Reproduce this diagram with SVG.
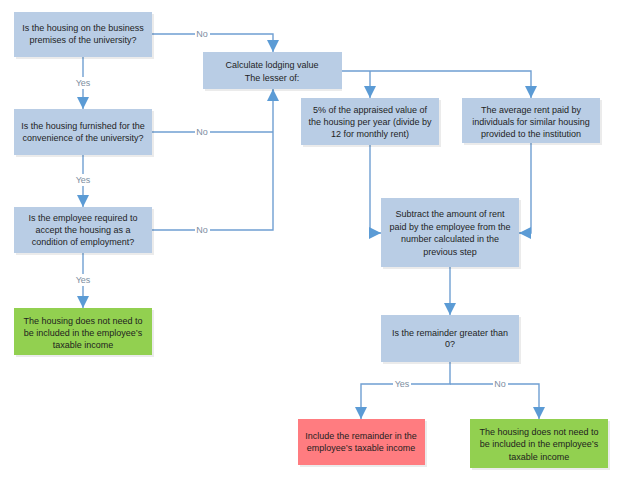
<svg xmlns="http://www.w3.org/2000/svg" width="620" height="482" viewBox="0 0 620 482">
<defs>
<style>
.box{fill:#b9cde5;}
.green{fill:#92d050;}
.red{fill:#ff7c80;}
.sh{fill:#000;opacity:0.08;}
.t{font-family:"Liberation Sans","Open Sans",sans-serif;font-size:9px;fill:#1e1e1e;text-anchor:middle;}
.c{fill:none;stroke:#6f9fd2;stroke-width:1.4;}
.lb{font-family:"Liberation Sans","Open Sans",sans-serif;font-size:9px;fill:#7d8ea1;text-anchor:middle;}
.lbg{fill:#fff;}
</style>
<marker id="ah" markerUnits="userSpaceOnUse" markerWidth="12" markerHeight="12" viewBox="0 0 12 12" refX="12" refY="6" orient="auto">
<path d="M0,0 L12,6 L0,12 Z" fill="#5b9bd5"/>
</marker>
</defs>
<rect width="620" height="482" fill="#fff"/>

<g id="connectors">
<path class="c" d="M83,57 V109" marker-end="url(#ah)"/>
<path class="c" d="M83,155 V207" marker-end="url(#ah)"/>
<path class="c" d="M83,253 V308" marker-end="url(#ah)"/>
<path class="c" d="M152,34 H273 V52" marker-end="url(#ah)"/>
<path class="c" d="M152,132 H273"/>
<path class="c" d="M152,230 H273 V89" marker-end="url(#ah)"/>
<path class="c" d="M342,71 H531 V98" marker-end="url(#ah)"/>
<path class="c" d="M370,71 V98" marker-end="url(#ah)"/>
<path class="c" d="M370,145 V233 H381" marker-end="url(#ah)"/>
<path class="c" d="M531,143 V233 H519" marker-end="url(#ah)"/>
<path class="c" d="M450,267 V315" marker-end="url(#ah)"/>
<path class="c" d="M450,362 V384 H361 V419" marker-end="url(#ah)"/>
<path class="c" d="M450,384 H539 V419" marker-end="url(#ah)"/>
<rect class="lbg" x="74" y="77" width="18" height="12"/><text class="lb" x="83" y="86">Yes</text>
<rect class="lbg" x="74" y="174" width="18" height="12"/><text class="lb" x="83" y="183">Yes</text>
<rect class="lbg" x="74" y="274" width="18" height="12"/><text class="lb" x="83" y="283">Yes</text>
<rect class="lbg" x="195" y="28" width="15" height="12"/><text class="lb" x="202" y="37">No</text>
<rect class="lbg" x="195" y="126" width="15" height="12"/><text class="lb" x="202" y="135">No</text>
<rect class="lbg" x="195" y="224" width="15" height="12"/><text class="lb" x="202" y="233">No</text>
<rect class="lbg" x="393" y="378" width="18" height="12"/><text class="lb" x="402" y="387">Yes</text>
<rect class="lbg" x="493" y="378" width="15" height="12"/><text class="lb" x="500" y="387">No</text>
</g>

<g id="q1">
<rect class="sh" x="16" y="14" width="138" height="45"/>
<rect class="box" x="14" y="12" width="138" height="45"/>
<text class="t" x="83" y="31">Is the housing on the business</text>
<text class="t" x="83" y="43">premises of the university?</text>
</g>
<g id="q2">
<rect class="sh" x="16" y="111" width="138" height="46"/>
<rect class="box" x="14" y="109" width="138" height="46"/>
<text class="t" x="83" y="129">Is the housing furnished for the</text>
<text class="t" x="83" y="141">convenience of the university?</text>
</g>
<g id="q3">
<rect class="sh" x="16" y="209" width="138" height="46"/>
<rect class="box" x="14" y="207" width="138" height="46"/>
<text class="t" x="83" y="221">Is the employee required to</text>
<text class="t" x="83" y="233">accept the housing as a</text>
<text class="t" x="83" y="245">condition of employment?</text>
</g>
<g id="notincluded1">
<rect class="sh" x="16" y="310" width="138" height="47"/>
<rect class="green" x="14" y="308" width="138" height="47"/>
<text class="t" x="83" y="324">The housing does not need to</text>
<text class="t" x="83" y="336">be included in the employee’s</text>
<text class="t" x="83" y="348">taxable income</text>
</g>
<g id="calc">
<rect class="sh" x="205" y="54" width="137" height="37"/>
<rect class="box" x="203" y="52" width="139" height="37"/>
<text class="t" x="272" y="68">Calculate lodging value</text>
<text class="t" x="272" y="81">The lesser of:</text>
</g>
<g id="pct">
<rect class="sh" x="303" y="100" width="138" height="47"/>
<rect class="box" x="301" y="98" width="138" height="47"/>
<text class="t" x="370" y="113">5% of the appraised value of</text>
<text class="t" x="370" y="125">the housing per year (divide by</text>
<text class="t" x="370" y="137">12 for monthly rent)</text>
</g>
<g id="avg">
<rect class="sh" x="464" y="100" width="138" height="45"/>
<rect class="box" x="462" y="98" width="138" height="45"/>
<text class="t" x="531" y="113">The average rent paid by</text>
<text class="t" x="531" y="125">individuals for similar housing</text>
<text class="t" x="531" y="137">provided to the institution</text>
</g>
<g id="subtract">
<rect class="sh" x="383" y="200" width="138" height="69"/>
<rect class="box" x="381" y="198" width="138" height="69"/>
<text class="t" x="450" y="217">Subtract the amount of rent</text>
<text class="t" x="450" y="230">paid by the employee  from the</text>
<text class="t" x="450" y="242">number calculated in the</text>
<text class="t" x="450" y="255">previous step</text>
</g>
<g id="remainder">
<rect class="sh" x="383" y="317" width="138" height="47"/>
<rect class="box" x="381" y="315" width="138" height="47"/>
<text class="t" x="450" y="336">Is the remainder greater than</text>
<text class="t" x="450" y="347">0?</text>
</g>
<g id="include">
<rect class="sh" x="300" y="421" width="127" height="46"/>
<rect class="red" x="298" y="419" width="127" height="46"/>
<text class="t" x="361" y="439">Include the remainder in the</text>
<text class="t" x="361" y="451">employee’s taxable income</text>
</g>
<g id="notincluded2">
<rect class="sh" x="472" y="421" width="138" height="49"/>
<rect class="green" x="470" y="419" width="138" height="49"/>
<text class="t" x="539" y="435">The housing does not need to</text>
<text class="t" x="539" y="447">be included in the employee’s</text>
<text class="t" x="539" y="460">taxable income</text>
</g>
</svg>
